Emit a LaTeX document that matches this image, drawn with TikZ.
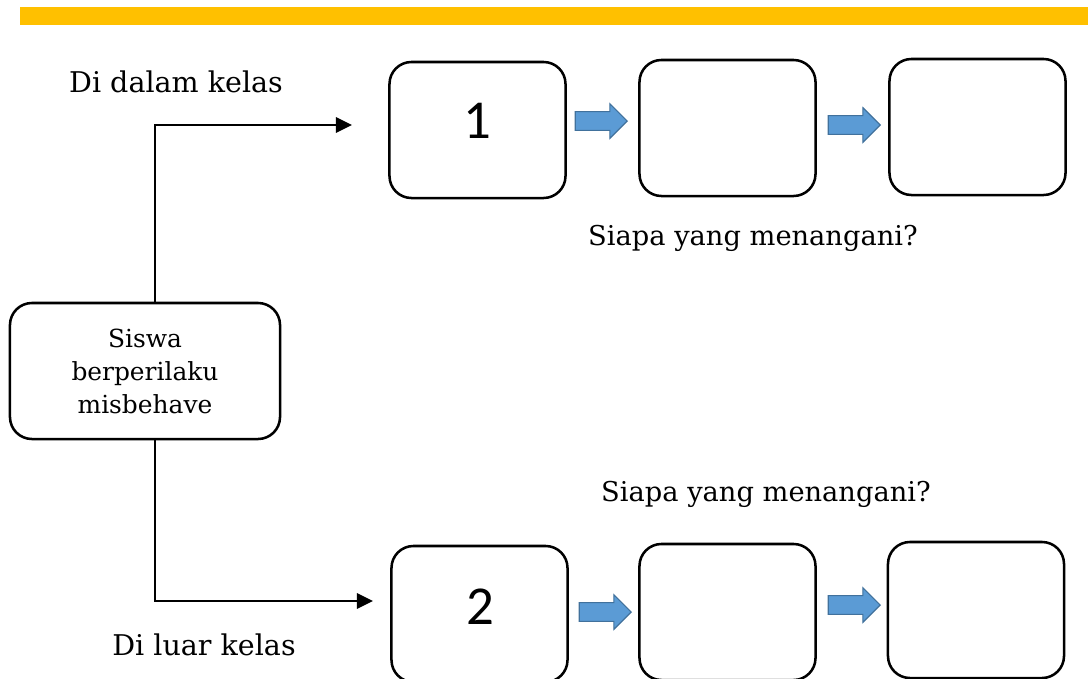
\documentclass[tikz,border=0pt]{standalone}
\usepackage{fontspec}
\setmainfont{DejaVu Serif}
\newfontfamily\numfont{Carlito}
\usetikzlibrary{arrows.meta,shapes.arrows}
\definecolor{barcolor}{HTML}{FFC000}
\definecolor{arrowfill}{HTML}{5B9BD5}
\definecolor{arrowedge}{HTML}{41719C}

\begin{document}
\begin{tikzpicture}[x=0.025cm, y=-0.025cm,
  box/.style={draw, line width=1.8pt, rounded corners=0.55cm, minimum width=4.4cm, minimum height=3.4cm, align=center, inner sep=0pt},
  arrow/.style={-{Triangle[length=0.4cm, width=0.38cm]}, line width=1.6pt},
  blockarrow/.style={single arrow, anchor=tip, draw=arrowedge, fill=arrowfill, line width=0.8pt, minimum height=1.3cm, minimum width=0.85cm, inner xsep=0pt, inner ysep=0.22cm, single arrow head extend=0.2cm, single arrow head indent=0pt},
  label/.style={font=\fontsize{20.3}{24}\selectfont},
  num/.style={font=\numfont\fontsize{39}{40}\selectfont}
]
  \useasboundingbox (0,0) rectangle (1088,679);
  \clip (0,0) rectangle (1088,679);
  % Top bar
  \fill[barcolor] (20,7) rectangle (1088,25);

  % Start
  \node[box, minimum width=6.75cm, font=\fontsize{17.7}{23.5}\selectfont] (siswa) at (145,371) {Siswa\\berperilaku\\misbehave};

  % Di dalam kelas
  \node[box] (in1) at (477.5,130) {};
  \node[num] at (477,121) {1};
  \node[box] (in2) at (727.5,128) {};
  \node[box] (in3) at (977.5,127) {};
  \node[blockarrow] (ina) at (628,121) {};
  \node[blockarrow] (inb) at (881,125) {};

  % Di luar kelas
  \node[box] (out1) at (479.5,614) {};
  \node[num] at (480,607) {2};
  \node[box] (out2) at (727.5,612) {};
  \node[box] (out3) at (976,610) {};
  \node[blockarrow] (outa) at (632,612) {};
  \node[blockarrow] (outb) at (881,605) {};

  % Connections
  \coordinate (inend) at (352,125);
  \coordinate (outend) at (373,601);
  \draw[arrow] ([xshift=0.25cm]siswa.north) |- (inend);
  \draw[arrow] ([xshift=0.25cm]siswa.south) |- (outend);

  % Labels
  \node[label] (dalam) at (176,82) {Di dalam kelas};
  \node[label] (luar) at (204,645) {Di luar kelas};
  \node[label, font=\fontsize{19.4}{24}\selectfont] (siapa1) at (753,238) {Siapa yang menangani?};
  \node[label, font=\fontsize{19.4}{24}\selectfont] (siapa2) at (766,494) {Siapa yang menangani?};
\end{tikzpicture}
\end{document}
